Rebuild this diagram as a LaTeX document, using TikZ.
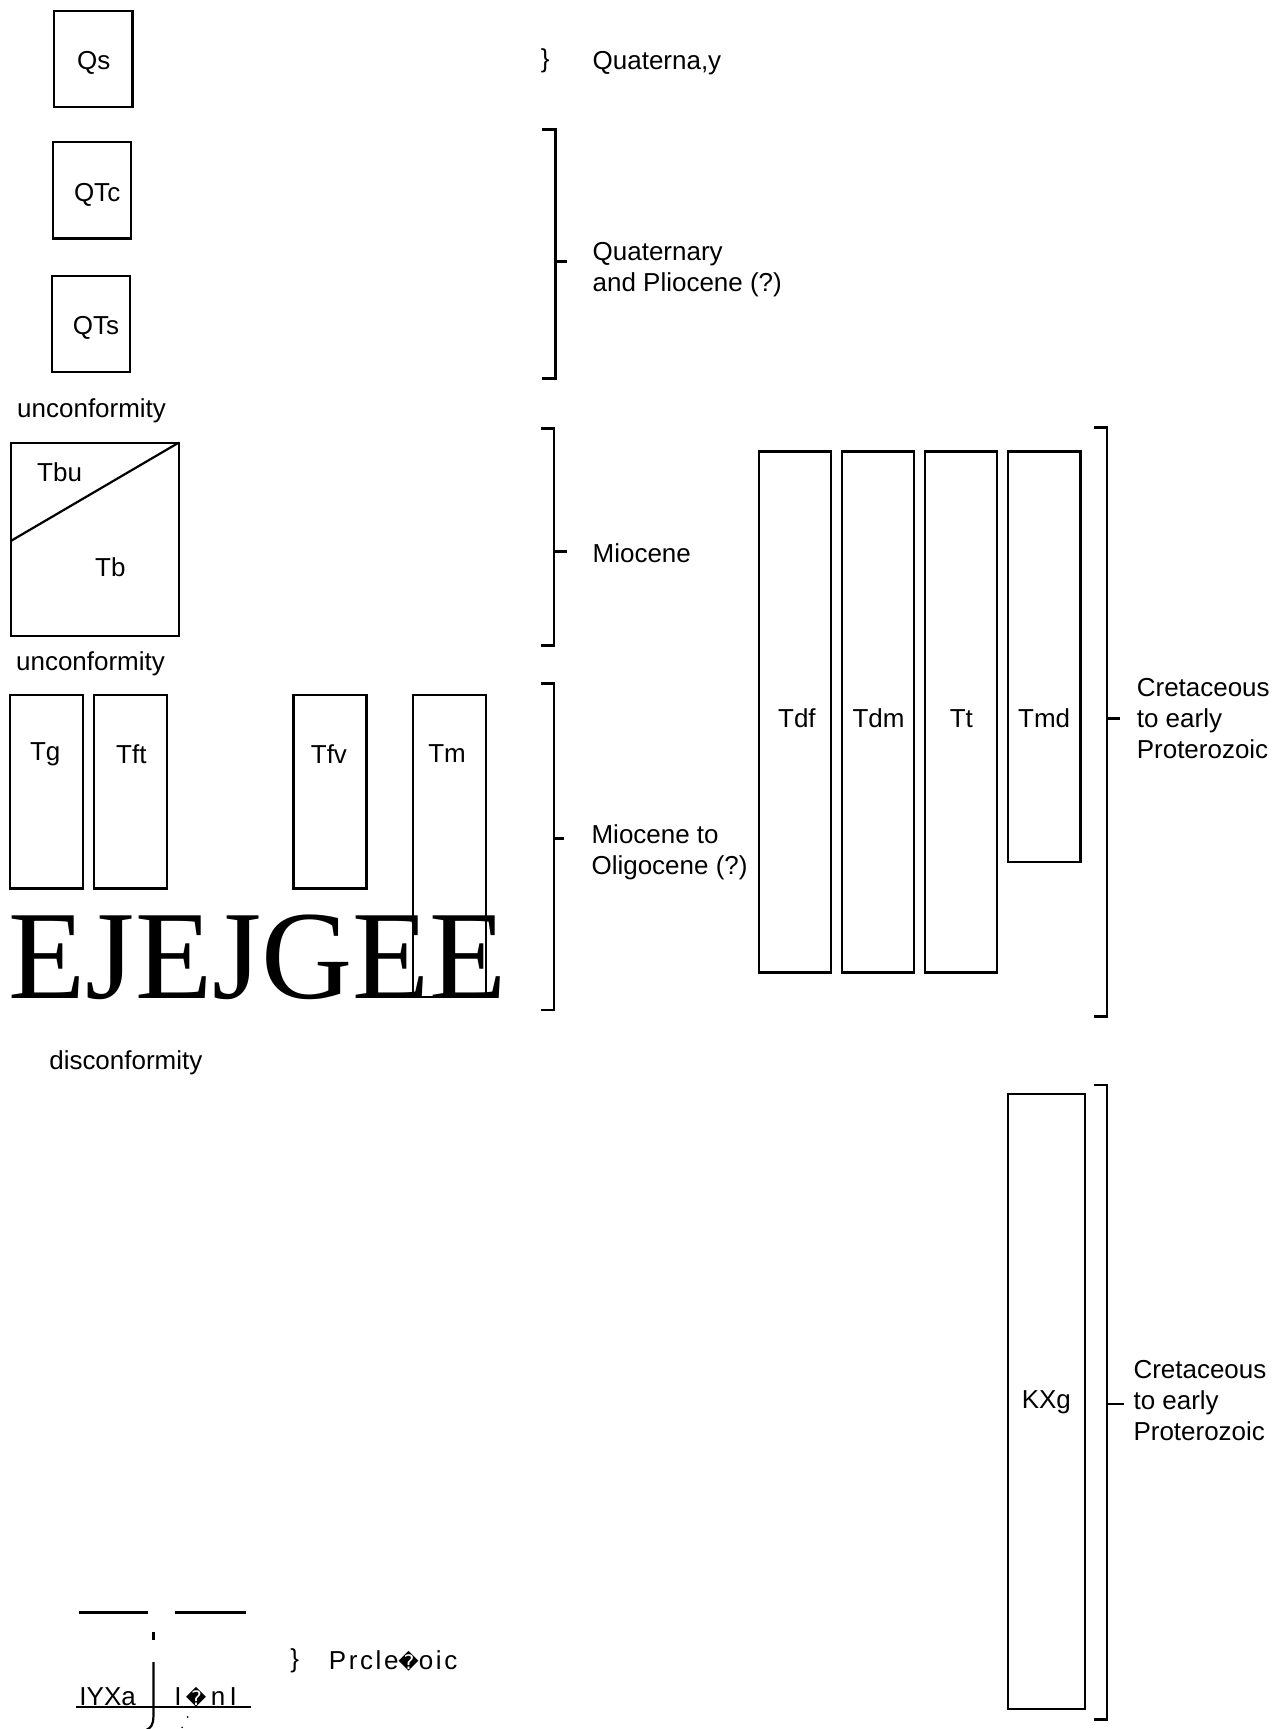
\documentclass[tikz,border=0pt]{standalone}
\usepackage{fontspec}
\setmainfont{Liberation Sans}
\newfontfamily\bigserif{Liberation Serif}
\newfontfamily\dejavu{DejaVu Sans}
\newcommand{\badchar}{{\dejavu\fontsize{10}{12}\selectfont\symbol{"FFFD}}}

\begin{document}
\begin{tikzpicture}[x=0.5523pt,y=-0.5523pt,line width=1.1pt,
  every node/.style={inner sep=0pt,font=\fontsize{13}{15.5}\selectfont},
  bracket/.style={line width=1.4pt},
  period/.style={anchor=west,align=left}]
\useasboundingbox (0,0) rectangle (1160.6,1566.5);

% left column
\draw (49,10) rectangle (120,97);
\node (qs) at (85,57) {Qs};
\draw (48,129) rectangle (119,216);
\node (qtc) at (88,177) {QTc};
\draw (47,250) rectangle (118,337);
\node (qts) at (87,297) {QTs};
\node (unc1) at (83,372) {unconformity};

\draw (10,401) rectangle (162,576);
\draw (10,490) -- (162,401);
\node (tbu) at (54,428) {Tbu};
\node (tb) at (100,514) {Tb};
\node (unc2) at (82,601) {unconformity};

\draw (9,630) rectangle (75,805);
\node (tg) at (41,683) {Tg};
\draw (85,630) rectangle (151,805);
\node (tft) at (119,683) {Tft};
\draw (266,630) rectangle (332,805);
\node (tfv) at (298,683) {Tfv};
\draw (374,630) rectangle (440,903);
\node (tm) at (405,683) {Tm};

\node[anchor=base west,font=\bigserif\fontsize{63.2}{70}\selectfont] (junk) at (7,905) {EJEJGEE};
\node (disc) at (114,963) {disconformity};

% periods, middle
\node (brace1) at (494,55) {\}};
\node[period] (quat) at (536,57) {Quaterna,y};

\draw[bracket] (491,117) -- (503,117) -- (503,343) -- (491,343);
\draw[bracket] (503,237) -- (514,237);
\node[period] (plio) at (536,244) {Quaternary\\and Pliocene (?)};

\draw[bracket] (490,388) -- (502,388) -- (502,585) -- (490,585);
\draw[bracket] (502,500) -- (514,500);
\node[period] (mio) at (536,501) {Miocene};

\draw[bracket] (490,619) -- (502,619) -- (502,915) -- (490,915);
\draw[bracket] (502,760) -- (511,760);
\node[period] (oligo) at (535,772) {Miocene to\\Oligocene (?)};

% right column
\draw (688,409) rectangle (753,881);
\node (tdf) at (722,651) {Tdf};
\draw (763,409) rectangle (828,881);
\node (tdm) at (796,651) {Tdm};
\draw (838,409) rectangle (903,881);
\node (tt) at (871,651) {Tt};
\draw (913,409) rectangle (979,781);
\node (tmd) at (946,651) {Tmd};

\draw[bracket] (991,387) -- (1003,387) -- (1003,921) -- (991,921);
\draw[bracket] (1003,651) -- (1015,651);
\node[period] (cret1) at (1029,651) {Cretaceous\\to early\\Proterozoic};

\draw (913,991) rectangle (983,1548);
\node (kxg) at (948,1270) {KXg};
\draw[bracket] (991,983) -- (1003,983) -- (1003,1558) -- (991,1558);
\draw[bracket] (1003,1272) -- (1018,1272);
\node[period] (cret2) at (1026,1269) {Cretaceous\\to early\\Proterozoic};

% bottom left
\draw[line width=1.6pt] (72,1461) -- (134,1461);
\draw[line width=1.6pt] (159,1461) -- (223,1461);
\draw[line width=1.5pt] (139,1479) -- (139,1486);
\draw (139,1506) -- (139,1555) .. controls (139,1563) and (136,1566) .. (133,1567);
\draw (69,1546.5) -- (227,1546.5);
\node[anchor=base west] (yxa) at (71,1545) {IYXa};
\node[anchor=base west] (onl) at (157,1545) {I\,\badchar\,n\,I};
\fill (170,1555.6) circle (1);
\fill (165,1565) circle (0.8);
\node (brace2) at (267,1505) {\}};
\node[anchor=west,font=\fontsize{13}{15.5}\selectfont\addfontfeature{LetterSpace=10}] (prot) at (297,1505) {Prcle\badchar oic};
\end{tikzpicture}
\end{document}
